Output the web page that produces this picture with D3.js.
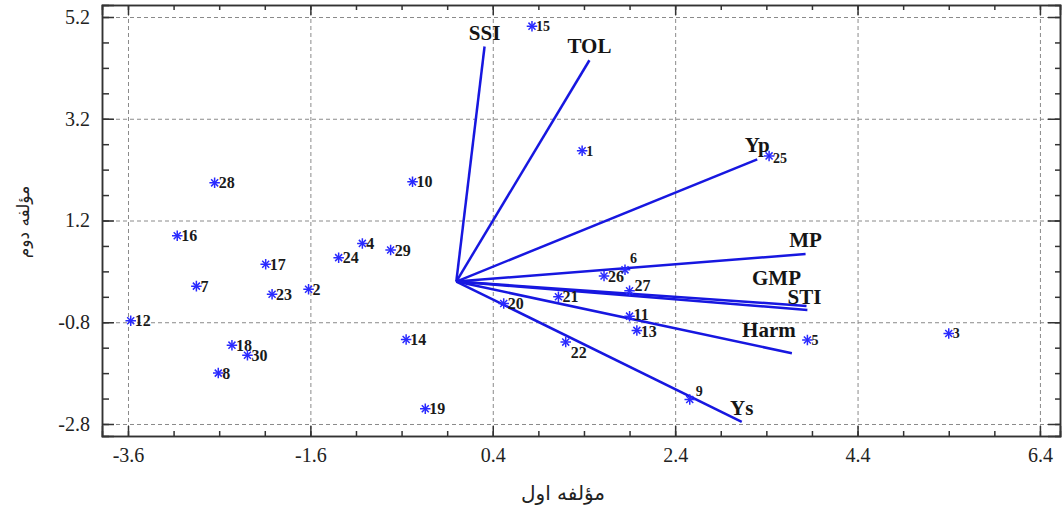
<!DOCTYPE html>
<html>
<head>
<meta charset="utf-8">
<script src="https://cdn.jsdelivr.net/npm/d3@7"></script>
<style>
  body { margin: 0; background: #fff; }
  .tick text { font-family: "Liberation Serif", "Times New Roman", serif; }
</style>
</head>
<body>
<div id="biplot"></div>
<script>
//biplot of first two components: genotypes as points, indices as vectors

//genotype numbers and their scores on component 1 and 2
var genoIds = [1, 2, 3, 4, 5, 6, 7, 8, 9, 10, 11, 12, 13, 14, 15,
               16, 17, 18, 19, 20, 21, 22, 23, 24, 25, 26, 27, 28, 29, 30];
var pc1 = [1.38, -1.62, 5.40, -1.03, 3.85, 1.85, -2.85, -2.61, 2.56, -0.48,
           1.90, -3.57, 1.98, -0.55, 0.83, -3.06, -2.09, -2.46, -0.34, 0.52,
           1.12, 1.20, -2.02, -1.29, 3.43, 1.62, 1.90, -2.65, -0.72, -2.29];
var pc2 = [2.57, -0.15, -1.02, 0.75, -1.15, 0.23, -0.09, -1.80, -2.32, 1.96,
           -0.68, -0.77, -0.96, -1.14, 5.02, 0.90, 0.34, -1.25, -2.50, -0.43,
           -0.30, -1.19, -0.25, 0.47, 2.47, 0.11, -0.18, 1.94, 0.62, -1.45];

//index names and vector tips
var indexNames = ["SSI", "TOL", "Yp", "MP", "GMP", "STI", "Harm", "Ys"];
var indexPc1 = [0.31, 1.46, 3.30, 3.83, 3.84, 3.85, 3.68, 3.13];
var indexPc2 = [4.62, 4.35, 2.40, 0.54, -0.48, -0.56, -1.41, -2.76];

//tick labels
var xTicks = [-3.6, -1.6, 0.4, 2.4, 4.4, 6.4];
var yTicks = [-2.8, -0.8, 1.2, 3.2, 5.2];

var xTitle = "مؤلفه اول";
var yTitle = "مؤلفه دوم";

var svgWidth = 1062;
var svgHeight = 505;

var margin = { top: 5, right: 2, bottom: 69, left: 102 };
var width = svgWidth - margin.left - margin.right;
var height = svgHeight - margin.top - margin.bottom;

var svg = d3.select("#biplot")
  .append("svg")
  .attr("width", svgWidth)
  .attr("height", svgHeight);

var chartGroup = svg.append("g")
  .attr("transform", `translate(${margin.left}, ${margin.top})`);

var xScale = d3.scaleLinear()
  .domain([-3.885, 6.62])
  .range([0, width]);

var yScale = d3.scaleLinear()
  .domain([-3.036, 5.436])
  .range([height, 0]);

//minor ticks every 0.5
var xMinor = d3.range(-3.6, 6.45, 0.5);
var yMinor = d3.range(-2.8, 5.25, 0.5);

var fmt = d => d.toFixed(1);

//dashed grid
chartGroup.append("g")
  .attr("class", "grid")
  .attr("transform", `translate(0, ${height})`)
  .call(d3.axisBottom(xScale).tickValues(xTicks).tickSize(-height).tickFormat(""));
chartGroup.append("g")
  .attr("class", "grid")
  .call(d3.axisLeft(yScale).tickValues(yTicks).tickSize(-width).tickFormat(""));
chartGroup.selectAll(".grid .domain").remove();
chartGroup.selectAll(".grid line")
  .attr("stroke", "#8a8a8a")
  .attr("stroke-width", 1)
  .attr("stroke-dasharray", "4,3");

//ticks on all four sides, pointing inward
function addAxis(axisFn, scale, values, size, transform, labels) {
  var g = chartGroup.append("g")
    .attr("class", "frame-axis")
    .attr("transform", transform)
    .call(axisFn(scale).tickValues(values).tickSize(size).tickPadding(12)
      .tickFormat(labels ? fmt : ""));
  g.select(".domain").attr("stroke", "#333").attr("stroke-width", 1.5);
  g.selectAll(".tick line").attr("stroke", "#333").attr("stroke-width", 1.5);
  g.selectAll(".tick text").attr("font-size", 20).attr("fill", "#222");
  return g;
}

addAxis(d3.axisBottom, xScale, xTicks, -10, `translate(0, ${height})`, true);
addAxis(d3.axisBottom, xScale, xMinor, -5, `translate(0, ${height})`, false);
addAxis(d3.axisTop, xScale, xTicks, -10, "translate(0, 0)", false);
addAxis(d3.axisTop, xScale, xMinor, -5, "translate(0, 0)", false);
addAxis(d3.axisLeft, yScale, yTicks, -12, "translate(0, 0)", true);
addAxis(d3.axisLeft, yScale, yMinor, -7, "translate(0, 0)", false);
addAxis(d3.axisRight, yScale, yTicks, -12, `translate(${width}, 0)`, false);
addAxis(d3.axisRight, yScale, yMinor, -5, `translate(${width}, 0)`, false);

//x tick labels sit a bit lower
chartGroup.selectAll(".frame-axis .tick text").filter(function() {
  return this.getAttribute("dy") === "0.71em";
}).attr("y", 12);

//index vectors from origin
var vectors = indexNames.map((n, i) => ({ name: n, x: indexPc1[i], y: indexPc2[i] }));

chartGroup.selectAll(".vec")
  .data(vectors)
  .enter()
  .append("line")
  .attr("class", "vec")
  .attr("x1", xScale(0))
  .attr("y1", yScale(0))
  .attr("x2", d => xScale(d.x))
  .attr("y2", d => yScale(d.y))
  .attr("stroke", "#1717e0")
  .attr("stroke-width", 2.5);

//most labels sit just above the tip, a couple are pushed left/up
var vecLabelShift = { GMP: [-30, -21], Harm: [-23, -16], STI: [-3, -6] };

chartGroup.selectAll(".vec-label")
  .data(vectors)
  .enter()
  .append("text")
  .attr("class", "vec-label")
  .attr("x", d => xScale(d.x) + (vecLabelShift[d.name] ? vecLabelShift[d.name][0] : 0))
  .attr("y", d => yScale(d.y) + (vecLabelShift[d.name] ? vecLabelShift[d.name][1] : -7))
  .attr("text-anchor", "middle")
  .attr("font-family", "Liberation Serif, Times New Roman, serif")
  .attr("font-weight", "bold")
  .attr("font-size", 21)
  .attr("fill", "#151515")
  .text(d => d.name);

//genotype points
var points = genoIds.map((id, i) => ({ id: id, x: pc1[i], y: pc2[i] }));

var plusSym = d3.symbol().type(d3.symbolPlus).size(38);
var timesSym = d3.symbol().type(d3.symbolTimes).size(34);

var markers = chartGroup.selectAll(".geno")
  .data(points)
  .enter()
  .append("g")
  .attr("class", "geno")
  .attr("transform", d => `translate(${xScale(d.x)}, ${yScale(d.y)})`);

markers.append("path").attr("d", plusSym)
  .attr("fill", "none").attr("stroke", "#2a2aff").attr("stroke-width", 1.5);
markers.append("path").attr("d", timesSym)
  .attr("fill", "none").attr("stroke", "#2a2aff").attr("stroke-width", 1.5);

//label offsets for the few that are not just right of the marker
var genoLabelShift = { 6: [5, -12], 9: [6, -8], 22: [5, 10], 27: [5, -5], 25: [4, 2],
                       11: [4, -2], 13: [4, 1] };
var smallLabels = [1, 3, 5, 6, 9, 15, 25];

markers.append("text")
  .attr("x", d => genoLabelShift[d.id] ? genoLabelShift[d.id][0] : 4)
  .attr("y", d => genoLabelShift[d.id] ? genoLabelShift[d.id][1] : 0)
  .attr("dy", "0.35em")
  .attr("font-family", "Liberation Serif, Times New Roman, serif")
  .attr("font-weight", "bold")
  .attr("font-size", d => smallLabels.includes(d.id) ? 14 : 16)
  .attr("fill", "#1a1a1a")
  .text(d => d.id);

//axis titles
svg.append("text")
  .attr("x", 563)
  .attr("y", 500)
  .attr("text-anchor", "middle")
  .attr("font-family", "DejaVu Sans, sans-serif")
  .attr("font-size", 20)
  .attr("fill", "#222")
  .text(xTitle);

svg.append("text")
  .attr("transform", "rotate(-90)")
  .attr("x", -222)
  .attr("y", 29)
  .attr("text-anchor", "middle")
  .attr("font-family", "DejaVu Sans, sans-serif")
  .attr("font-size", 17)
  .attr("fill", "#222")
  .text(yTitle);
</script>
</body>
</html>
